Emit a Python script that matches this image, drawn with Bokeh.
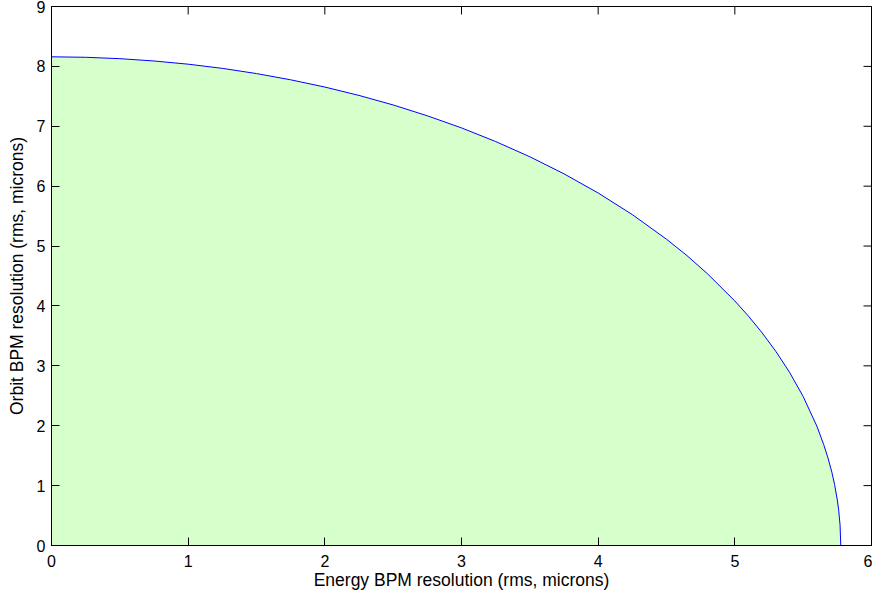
import math
from bokeh.plotting import figure
from bokeh.models import Range1d, FixedTicker
from bokeh.embed import file_html
from bokeh.resources import INLINE

# Boundary curve (rms, microns)
energy_res = [0.0, 0.25, 0.5, 0.75, 1.0, 1.25, 1.5, 1.75, 2.0, 2.25, 2.5, 2.75,
              3.0, 3.25, 3.5, 3.75, 4.0, 4.25, 4.5, 4.65, 4.8, 5.0, 5.1, 5.2,
              5.3, 5.4, 5.5, 5.6, 5.65, 5.68, 5.71, 5.73, 5.75, 5.76, 5.77, 5.775]
orbit_res = [8.16, 8.152, 8.129, 8.09, 8.037, 7.967, 7.880, 7.776, 7.655, 7.515,
             7.356, 7.175, 6.973, 6.745, 6.491, 6.206, 5.886, 5.525, 5.114, 4.840,
             4.537, 4.083, 3.829, 3.550, 3.242, 2.893, 2.488, 1.994, 1.687, 1.474,
             1.223, 1.017, 0.758, 0.588, 0.339, 0.0]
origin = (0.0, 0.0)

x_ticks = [0, 1, 2, 3, 4, 5, 6]
y_ticks = [0, 1, 2, 3, 4, 5, 6, 7, 8, 9]
x_lim = (0, 6)
y_lim = (0, 9)

FONT = "Liberation Sans"

p = figure(width=872, height=598, output_backend="svg", toolbar_location=None,
           x_range=Range1d(*x_lim), y_range=Range1d(*y_lim),
           min_border_left=51, min_border_right=1, min_border_top=6,
           min_border_bottom=53)
p.background_fill_color = "white"
p.border_fill_color = "white"
p.outline_line_color = "black"
p.outline_line_width = 1
p.grid.visible = False

px = [origin[0]] + energy_res
py = [origin[1]] + orbit_res
p.patch(px, py, fill_color="#d6ffcc", line_color="#0000ff", line_width=1)

# inward tick marks on the top and right edges (MATLAB box style)
p.scatter(x=x_ticks, y=[y_lim[1]] * len(x_ticks), marker="dash", size=16,
          angle=math.pi / 2, line_color="black", line_width=1)
p.scatter(x=[x_lim[1]] * len(y_ticks), y=y_ticks, marker="dash", size=16,
          line_color="black", line_width=1)


def style(ax, ticks):
    ax.ticker = FixedTicker(ticks=ticks)
    ax.minor_tick_line_color = None
    ax.major_tick_in = 8
    ax.major_tick_out = 0
    ax.axis_line_color = "black"
    ax.major_tick_line_color = "black"
    ax.major_label_text_font = FONT
    ax.major_label_text_color = "black"
    ax.major_label_text_font_size = "16px"
    ax.axis_label_text_font = FONT
    ax.axis_label_text_font_size = "17.5px"
    ax.axis_label_text_font_style = "normal"
    ax.axis_label_text_color = "black"


style(p.xaxis[0], x_ticks)
p.xaxis[0].axis_label = "Energy BPM resolution (rms, microns)"
p.xaxis[0].major_label_standoff = 9
p.xaxis[0].axis_label_standoff = 0

style(p.yaxis[0], y_ticks)
p.yaxis[0].axis_label = "Orbit BPM resolution (rms, microns)"
p.yaxis[0].major_label_standoff = 6
p.yaxis[0].axis_label_standoff = 7

open("out.html", "w").write(file_html(p, INLINE))
